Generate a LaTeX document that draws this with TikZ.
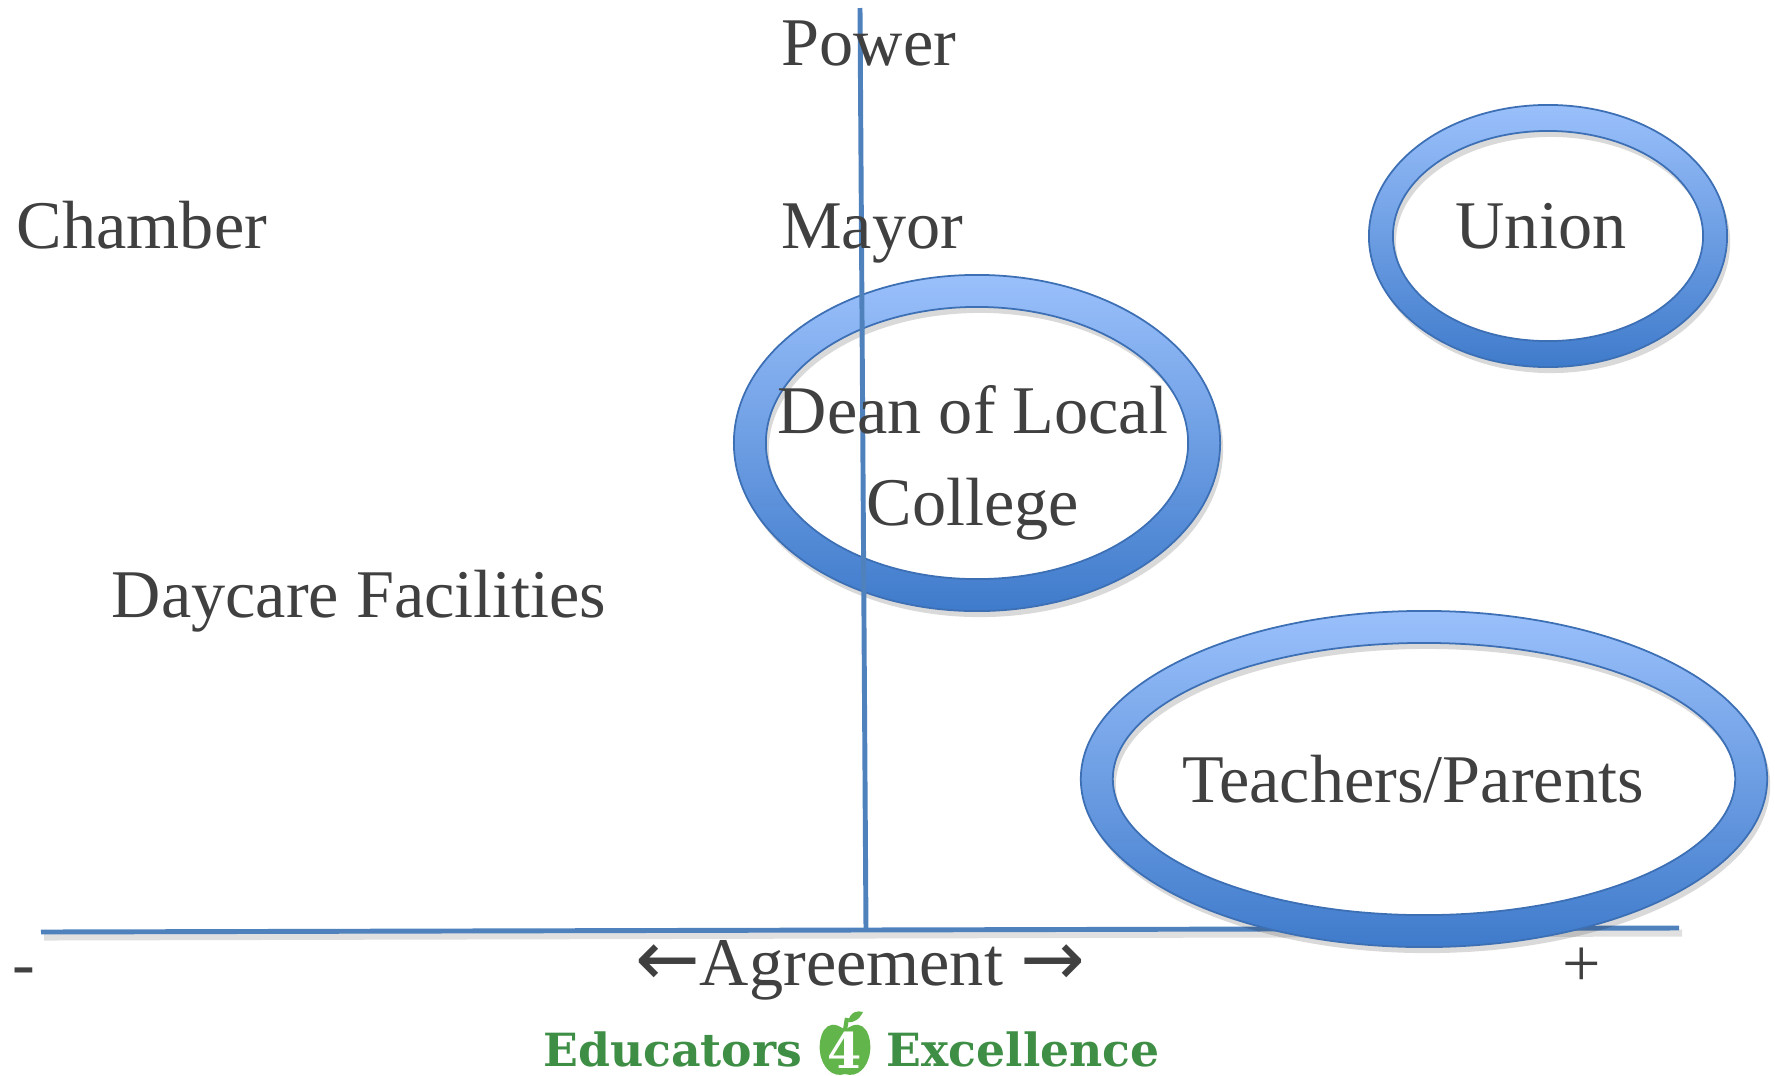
\documentclass[tikz,border=0pt]{standalone}
\usepackage{fontspec}
\setmainfont{Liberation Serif}
\newfontfamily\logofont{DejaVu Serif}
\newfontfamily\arrowfont{DejaVu Sans}
\usetikzlibrary{calc}

\definecolor{axisblue}{HTML}{4F81BD}
\definecolor{ringtop}{HTML}{9AC0FB}
\definecolor{ringbot}{HTML}{3F7BCB}
\definecolor{ringline}{HTML}{3D6FB4}
\definecolor{txt}{HTML}{404040}
\definecolor{logogreen}{HTML}{3E8E45}
\definecolor{applegreen}{HTML}{62B54A}

\begin{document}
\begin{tikzpicture}[x=0.01cm, y=-0.01cm,
  lbl/.style={text=txt, font=\fontsize{19.4}{26}\selectfont, inner sep=0pt, anchor=base},
  logo/.style={text=logogreen, font=\logofont\bfseries\fontsize{13}{15}\selectfont, inner sep=0pt},
  axis/.style={draw=axisblue, line width=1.4pt},
  axisshadow/.style={draw=black, opacity=0.12, line width=2pt},
  ringshadow/.style={fill=black, opacity=0.15, even odd rule},
  ring/.style={top color=ringtop, bottom color=ringbot, draw=ringline, line width=0.5pt, even odd rule}]
  \useasboundingbox (0,0) rectangle (1775,1075);
  % axis ends and ring centres
  \coordinate (x-lo) at (41,932);
  \coordinate (x-hi) at (1679,928);
  \coordinate (y-hi) at (860,8);
  \coordinate (y-lo) at (866,931);
  \coordinate (union-c) at (1548,236);
  \coordinate (dean-c) at (977,443);
  \coordinate (tp-c) at (1424,779);

  % agreement axis, under the teachers/parents ring
  \draw[axisshadow] ($(x-lo)+(3,5)$) -- ($(x-hi)+(3,5)$);
  \draw[axis] (x-lo) -- (x-hi);
  \fill[ringshadow] ($(tp-c)+(3,6)$) ellipse [x radius=3.43cm, y radius=1.68cm]
                    ($(tp-c)+(3,6)$) ellipse [x radius=3.11cm, y radius=1.36cm];
  \shade[ring] (tp-c) ellipse [x radius=3.43cm, y radius=1.68cm]
               (tp-c) ellipse [x radius=3.11cm, y radius=1.36cm];
  % dean ring, then the power axis over it
  \fill[ringshadow] ($(dean-c)+(3,6)$) ellipse [x radius=2.43cm, y radius=1.68cm]
                    ($(dean-c)+(3,6)$) ellipse [x radius=2.11cm, y radius=1.36cm];
  \shade[ring] (dean-c) ellipse [x radius=2.43cm, y radius=1.68cm]
               (dean-c) ellipse [x radius=2.11cm, y radius=1.36cm];
  \draw[axis] (y-hi) -- (y-lo);
  % union ring
  \fill[ringshadow] ($(union-c)+(3,6)$) ellipse [x radius=1.79cm, y radius=1.31cm]
                    ($(union-c)+(3,6)$) ellipse [x radius=1.55cm, y radius=1.05cm];
  \shade[ring] (union-c) ellipse [x radius=1.79cm, y radius=1.31cm]
               (union-c) ellipse [x radius=1.55cm, y radius=1.05cm];

  % labels
  \node[lbl] (power) at (869,65) {Power};
  \node[lbl] (chamber) at (142,248) {Chamber};
  \node[lbl] (mayor) at (872,248) {Mayor};
  \node[lbl] (union) at (1541,248) {Union};
  \node[lbl, align=center] (dean) at (973,525) {Dean of Local\\College};
  \node[lbl] (daycare) at (359,617) {Daycare Facilities};
  \node[lbl] (teach) at (1413,802) {Teachers/Parents};
  \node[lbl] (minus) at (24,986) {-};
  \node[lbl] (plus) at (1582,986) {+};
  \node[lbl] (agree) at (860,985) {{\arrowfont\fontsize{22}{26}\selectfont ←}Agreement {\arrowfont\fontsize{22}{26}\selectfont →}};

  % logo
  \node[logo, anchor=base east] (educ) at (803,1066) {Educators};
  \node[logo, anchor=base west] (excel) at (886,1066) {Excellence};
  \fill[applegreen] (845,1030) .. controls (825,1014) and (818,1038) .. (820,1052)
    .. controls (822,1068) and (833,1078) .. (845,1074)
    .. controls (857,1078) and (868,1068) .. (870,1052)
    .. controls (872,1038) and (865,1014) .. (845,1030) -- cycle;
  \draw[applegreen, line width=1.2pt] (845,1030) -- (847,1018);
  \fill[applegreen] (848,1022) .. controls (850,1012) and (857,1010) .. (863,1012)
    .. controls (859,1020) and (853,1023) .. (848,1022) -- cycle;
  \node[text=white, font=\logofont\bfseries\fontsize{14}{16}\selectfont, inner sep=0pt] (four) at (845,1050) {4};
\end{tikzpicture}
\end{document}
